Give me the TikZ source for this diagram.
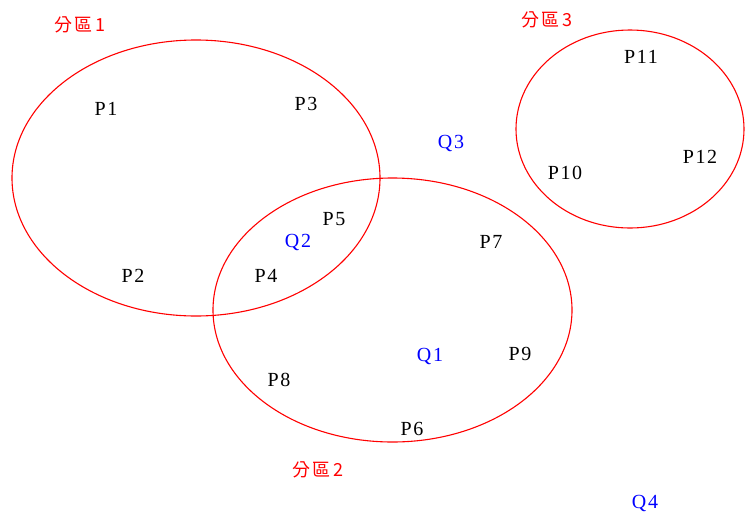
\documentclass[tikz,border=0pt]{standalone}
\usepackage{fontspec}
\setmainfont{Liberation Serif}[LetterSpace=8]
\newfontfamily\cjk[LetterSpace=14]{Noto Sans CJK TC}
\begin{document}
\begin{tikzpicture}[x=1pt,y=-1pt,
  region/.style={draw=red,line width=1.1pt},
  pt/.style={font=\fontsize{20}{20}\selectfont,text=black,inner sep=0pt},
  qpt/.style={font=\fontsize{20}{20}\selectfont,text=blue,inner sep=0pt},
  rlabel/.style={font=\cjk\fontsize{18}{18}\selectfont,text=red,inner sep=0pt}]
\useasboundingbox (0,0) rectangle (747,515);
\draw[region] (196,178) ellipse [x radius=184, y radius=138];
\draw[region] (392.5,310) ellipse [x radius=179.5, y radius=132];
\draw[region] (630,129) ellipse [x radius=114, y radius=99];
\node[rlabel] (r1) at (80,25) {分區1};
\node[rlabel] (r3) at (547,20) {分區3};
\node[rlabel] (r2) at (318,470) {分區2};
\node[pt] (p1) at (106,109) {P1};
\node[pt] (p3) at (306,104) {P3};
\node[qpt] (q3) at (451,143) {Q3};
\node[pt] (p11) at (641,57) {P11};
\node[pt] (p10) at (565,173) {P10};
\node[pt] (p12) at (700,157) {P12};
\node[pt] (p5) at (334,219) {P5};
\node[qpt] (q2) at (298,242) {Q2};
\node[pt] (p7) at (491,242) {P7};
\node[pt] (p2) at (133,276) {P2};
\node[pt] (p4) at (266,276) {P4};
\node[qpt] (q1) at (430,356) {Q1};
\node[pt] (p9) at (520,354) {P9};
\node[pt] (p8) at (279,380) {P8};
\node[pt] (p6) at (412,429) {P6};
\node[qpt] (q4) at (645,503) {Q4};
\end{tikzpicture}
\end{document}
